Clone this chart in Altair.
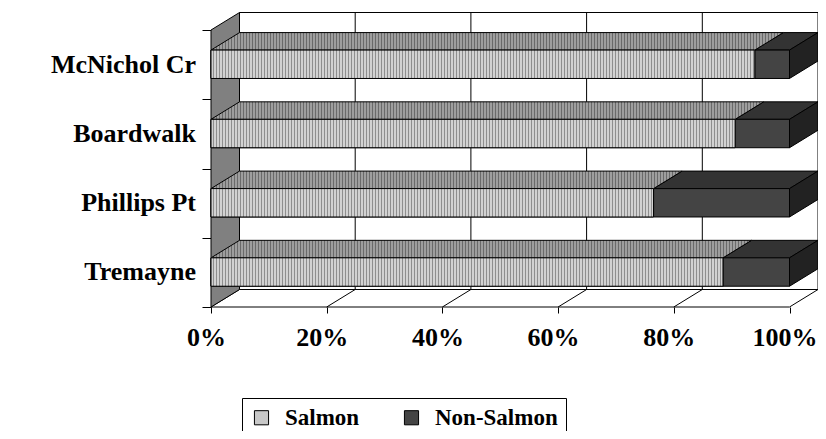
import altair as alt
import pandas as pd

# ---------------- data ----------------
categories = ["McNichol Cr", "Boardwalk", "Phillips Pt", "Tremayne"]   # top to bottom
salmon = [94.0, 90.6, 76.5, 88.5]          # percent
non_salmon = [6.0, 9.4, 23.5, 11.5]        # percent
series = ["Salmon", "Non-Salmon"]
x_ticks = [0, 0.2, 0.4, 0.6, 0.8, 1.0]
band_ticks = [0, 1, 2, 3, 4]

# ---------------- geometry / style constants ----------------
SERIF = "Liberation Serif"
PLOT_W, PLOT_H = 607, 295
DX_PX, DY_PX = 28.5, 17.5            # 3-D depth offset in pixels
UNIT_X = PLOT_W - DX_PX               # pixels for 0..100 %
DXU = DX_PX / UNIT_X
XMAX = 1 + DXU
YMAX = 4.26
UNIT_Y = PLOT_H / YMAX
DYU = DY_PX / UNIT_Y
NB = len(categories)
BAR_LO, BAR_HI = 0.30, 0.71

FRONT_LIGHT, FRONT_DARK = "#d2d2d2", "#8e8e8e"
TOP_LIGHT, TOP_DARK = "#9e9e9e", "#6a6a6a"
NS_FRONT, NS_TOP, NS_SIDE = "#444444", "#333333", "#222222"
WALL = "#808080"

xs = alt.Scale(domain=[0, XMAX], nice=False, zero=False)
ys = alt.Scale(domain=[0, YMAX], nice=False, zero=False)

x_axis = alt.Axis(
    values=x_ticks, format="%", domain=False, grid=False, ticks=True, tickSize=6,
    tickColor="black", tickWidth=1, labelFont=SERIF, labelFontSize=26,
    labelFontWeight="bold", labelColor="black", labelPadding=11, labelOffset=-5,
    labelFlush=False, labelOverlap=False, labelBound=False, title=None,
)
y_axis = alt.Axis(
    values=band_ticks, labels=False, domain=False, grid=False, ticks=True,
    tickSize=9, tickColor="black", tickWidth=1, title=None,
)


def X(field):
    return alt.X(field, type="quantitative", scale=xs, axis=x_axis, stack=False)


def Y(field):
    return alt.Y(field, type="quantitative", scale=ys, axis=y_axis, stack=False)


def stripe_fill(width_px, light, dark):
    # vertical stripes with a fixed 3 px period (2 px light, 1 px dark)
    n = int(width_px // 3)
    stops = []
    for k in range(n):
        a = round(3 * k / width_px, 6)
        b = round((3 * k + 2) / width_px, 6)
        c = round((3 * k + 3) / width_px, 6)
        stops += [
            {"offset": a, "color": light},
            {"offset": b, "color": light},
            {"offset": b, "color": dark},
            {"offset": c, "color": dark},
        ]
    stops += [{"offset": round(3 * n / width_px, 6), "color": light},
              {"offset": 1, "color": light}]
    return {"gradient": "linear", "x1": 0, "y1": 0, "x2": 1, "y2": 0, "stops": stops}


# ---------------- walls and floor ----------------
back_df = pd.DataFrame({"x": [DXU], "x2": [XMAX], "y": [DYU], "y2": [NB + DYU]})
back = alt.Chart(back_df).mark_rect(fill="white", stroke="black", strokeWidth=1).encode(
    x=X("x"), x2="x2", y=Y("y"), y2="y2"
)

inner = x_ticks[1:-1]
back_grid_df = pd.DataFrame({"x": [t + DXU for t in inner], "y": DYU, "y2": NB + DYU})
back_grid = alt.Chart(back_grid_df).mark_rule(color="black", strokeWidth=1).encode(
    x=X("x"), y=Y("y"), y2="y2"
)

floor_df = pd.DataFrame({"y": [0, DYU], "x": [0, DXU], "x2": [1, XMAX]})
floor = alt.Chart(floor_df).mark_area(
    orient="horizontal", fill="white", stroke="black", strokeWidth=1
).encode(y=Y("y"), x=X("x"), x2="x2")

floor_grid_df = pd.DataFrame({"x": inner, "x2": [t + DXU for t in inner], "y": 0.0, "y2": DYU})
floor_grid = alt.Chart(floor_grid_df).mark_rule(color="black", strokeWidth=1).encode(
    x=X("x"), x2="x2", y=Y("y"), y2="y2"
)

wall_df = pd.DataFrame({"x": [0, DXU], "y": [0, DYU], "y2": [NB, NB + DYU]})
wall = alt.Chart(wall_df).mark_area(
    orient="vertical", fill=WALL, stroke="black", strokeWidth=1
).encode(x=X("x"), y=Y("y"), y2="y2")

# ---------------- bars ----------------
top_rows, side_rows, front_rows, label_rows = [], [], [], []
salmon_layers = []
for p, cat in enumerate(categories):
    idx = NB - 1 - p
    yb, yt = idx + BAR_LO, idx + BAR_HI
    s = salmon[p] / 100.0
    e = (salmon[p] + non_salmon[p]) / 100.0
    top_rows += [
        {"cat": cat, "y": yt, "x": s, "x2": e},
        {"cat": cat, "y": yt + DYU, "x": s + DXU, "x2": e + DXU},
    ]
    side_rows += [
        {"cat": cat, "x": e, "y": yb, "y2": yt},
        {"cat": cat, "x": e + DXU, "y": yb + DYU, "y2": yt + DYU},
    ]
    front_rows += [
        {"cat": cat, "series": "Salmon", "x": 0.0, "x2": s, "y": yb, "y2": yt},
        {"cat": cat, "series": "Non-Salmon", "x": s, "x2": e, "y": yb, "y2": yt},
    ]
    label_rows.append({"cat": cat, "x": 0.0, "y": idx + 0.5})

    st_df = pd.DataFrame([
        {"y": yt, "x": 0.0, "x2": s},
        {"y": yt + DYU, "x": DXU, "x2": s + DXU},
    ])
    salmon_layers.append(
        alt.Chart(st_df).mark_area(
            orient="horizontal", fill=stripe_fill(s * UNIT_X + DX_PX, TOP_LIGHT, TOP_DARK),
            stroke="black", strokeWidth=1,
        ).encode(y=Y("y"), x=X("x"), x2="x2")
    )
    sf_df = pd.DataFrame([{"x": 0.0, "x2": s, "y": yb, "y2": yt}])
    salmon_layers.append(
        alt.Chart(sf_df).mark_rect(
            fill=stripe_fill(s * UNIT_X, FRONT_LIGHT, FRONT_DARK),
            stroke="black", strokeWidth=1,
        ).encode(x=X("x"), x2="x2", y=Y("y"), y2="y2")
    )

ns_top = alt.Chart(pd.DataFrame(top_rows)).mark_area(
    orient="horizontal", fill=NS_TOP, stroke="black", strokeWidth=1
).encode(y=Y("y"), x=X("x"), x2="x2", detail="cat:N")

ns_side = alt.Chart(pd.DataFrame(side_rows)).mark_area(
    orient="vertical", fill=NS_SIDE, stroke="black", strokeWidth=1
).encode(x=X("x"), y=Y("y"), y2="y2", detail="cat:N")

front = alt.Chart(pd.DataFrame(front_rows)).mark_rect(stroke="black", strokeWidth=1).encode(
    x=X("x"), x2="x2", y=Y("y"), y2="y2",
    color=alt.Color(
        "series:N",
        scale=alt.Scale(domain=series, range=["#c8c8c8", NS_FRONT]),
        legend=alt.Legend(
            title=None, orient="none", legendX=31, legendY=386, direction="horizontal",
            symbolType="square", symbolSize=200, symbolStrokeColor="black",
            symbolStrokeWidth=1, labelFont=SERIF, labelFontSize=23,
            labelFontWeight="bold", labelColor="black", labelOffset=12,
            columnPadding=40, padding=8, strokeColor="black", fillColor="white",
        ),
    ),
)

labels = alt.Chart(pd.DataFrame(label_rows)).mark_text(
    align="right", baseline="middle", dx=-15, font=SERIF, fontSize=26,
    fontWeight="bold", color="black",
).encode(x=X("x"), y=Y("y"), text="cat:N")

chart = alt.layer(
    back, back_grid, floor, floor_grid, wall, ns_top, ns_side, front, *salmon_layers, labels
).properties(
    width=PLOT_W,
    height=PLOT_H,
    padding={"left": 203, "top": 4, "right": 0, "bottom": 124},
    autosize=alt.AutoSizeParams(type="none"),
    background="white",
).configure_view(strokeWidth=0)

chart.save("out.html", embed_options={"renderer": "svg", "actions": False})
